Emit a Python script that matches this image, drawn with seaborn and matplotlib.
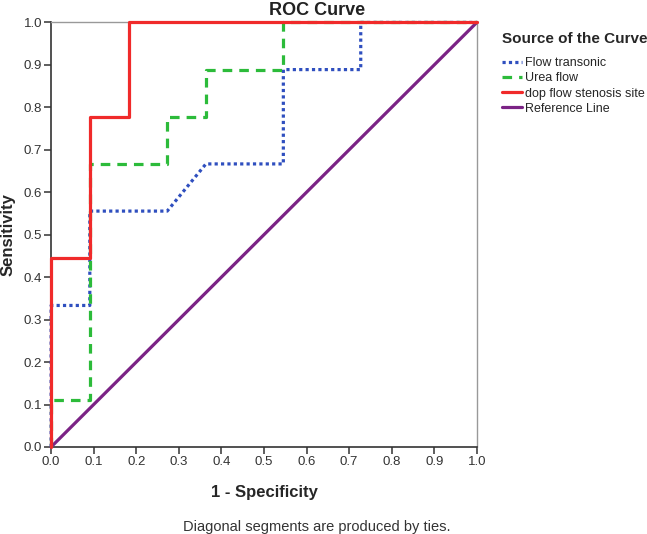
import numpy as np
import pandas as pd
import matplotlib
matplotlib.use("Agg")
import matplotlib.pyplot as plt
import seaborn as sns

sns.set_theme(style="white")
plt.rcParams['font.family'] = ['Liberation Sans', 'DejaVu Sans']

# Data
flow_fpr = [0.0, 0.0, 0.0909, 0.0909, 0.2727, 0.3636, 0.5455, 0.5455, 0.7273, 0.7273, 1.0]
flow_tpr = [0.0, 0.3333, 0.3333, 0.5556, 0.5556, 0.6667, 0.6667, 0.8889, 0.8889, 1.0, 1.0]
urea_fpr = [0.0, 0.0, 0.0909, 0.0909, 0.2727, 0.2727, 0.3636, 0.3636, 0.5455, 0.5455, 1.0]
urea_tpr = [0.0, 0.1111, 0.1111, 0.6667, 0.6667, 0.7778, 0.7778, 0.8889, 0.8889, 1.0, 1.0]
dop_fpr = [0.0, 0.0, 0.0909, 0.0909, 0.1818, 0.1818, 1.0]
dop_tpr = [0.0, 0.4444, 0.4444, 0.7778, 0.7778, 1.0, 1.0]
ref_x = [0.0, 1.0]
ref_y = [0.0, 1.0]
ticks = [0.0, 0.1, 0.2, 0.3, 0.4, 0.5, 0.6, 0.7, 0.8, 0.9, 1.0]

fig = plt.figure(figsize=(6.47, 5.34), dpi=100)
ax = fig.add_axes([0.079, 0.163, 0.658, 0.795])

common = dict(sort=False, estimator=None, lw=2.3, ax=ax)
sns.lineplot(x=ref_x, y=ref_y, color="#7b2385", label="Reference Line", **common)
sns.lineplot(x=flow_fpr, y=flow_tpr, color="#2f4fbf", linestyle=(0, (1, 1)),
             label="Flow transonic", **common)
sns.lineplot(x=urea_fpr, y=urea_tpr, color="#2cbb3a", linestyle=(0, (3, 2.2)),
             label="Urea flow", **common)
sns.lineplot(x=dop_fpr, y=dop_tpr, color="#f02a2a", label="dop flow stenosis site",
             **common)
for ln in ax.get_lines():
    ln.set_clip_on(False)
    ln.set_zorder(3)

ax.set_xlim(0, 1)
ax.set_ylim(0, 1)
ax.set_xticks(ticks)
ax.set_yticks(ticks)
ax.set_xticklabels([f"{t:.1f}" for t in ticks], fontsize=9.5, color="#333333")
ax.set_yticklabels([f"{t:.1f}" for t in ticks], fontsize=9.5, color="#333333")
ax.tick_params(axis="both", which="both", direction="out", length=5, width=1.1,
               color="#333333", bottom=True, left=True, pad=1.5)
for s in ["left", "bottom"]:
    ax.spines[s].set_color("#333333")
    ax.spines[s].set_linewidth(1.2)
    ax.spines[s].set_zorder(2)
for s in ["top", "right"]:
    ax.spines[s].set_color("#999999")
    ax.spines[s].set_linewidth(1.0)
    ax.spines[s].set_zorder(2)

ax.set_xlabel("1 - Specificity", fontsize=12, fontweight="bold", labelpad=12)
ax.set_ylabel("Sensitivity", fontsize=12, fontweight="bold", labelpad=6)
fig.text(0.49, 0.981, "ROC Curve", fontsize=13, fontweight="bold",
         ha="center", va="center", color="#222222")

handles, labels = ax.get_legend_handles_labels()
order = [1, 2, 3, 0]
leg = ax.legend([handles[i] for i in order], [labels[i] for i in order],
                title="Source of the Curve", loc="upper left",
                bbox_to_anchor=(1.058, 0.977), frameon=False, fontsize=9,
                handlelength=1.6, handletextpad=0.3, labelspacing=0.25,
                borderaxespad=0, borderpad=0)
leg.get_title().set_fontweight("bold")
leg.get_title().set_fontsize(11)
leg._legend_box.align = "left"
leg._legend_box.sep = 8

fig.text(0.49, 0.014, "Diagonal segments are produced by ties.", fontsize=10.5,
         ha="center", va="center", color="#333333")

fig.savefig("out.png", dpi=100)
